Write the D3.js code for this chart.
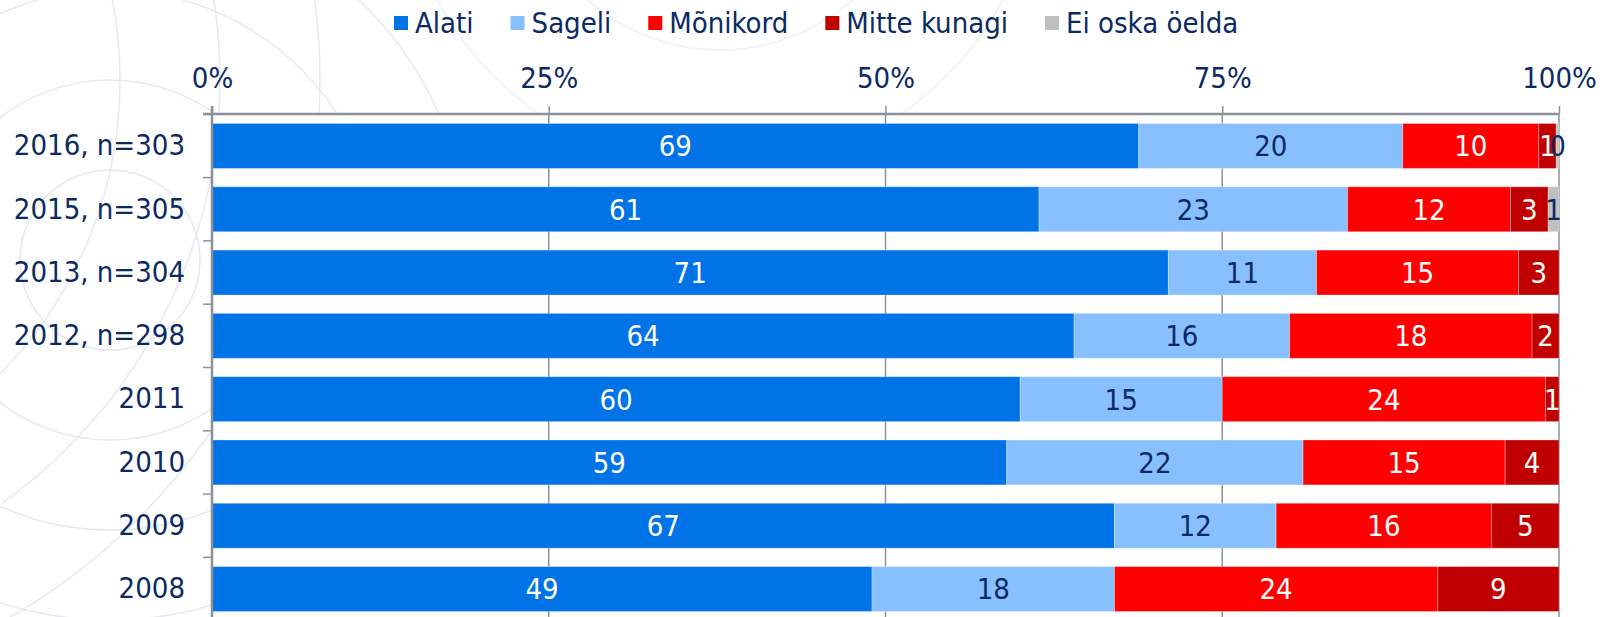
<!DOCTYPE html>
<html>
<head>
<meta charset="utf-8">
<script src="https://cdn.jsdelivr.net/npm/d3@7"></script>
<style>
  body { margin: 0; background: #fff; }
  svg { display: block; font-family: "DejaVu Sans Condensed", "DejaVu Sans", Verdana, sans-serif; font-stretch: condensed; }
</style>
</head>
<body>
<div id="chart"></div>
<script>
var categories = ["2016, n=303", "2015, n=305", "2013, n=304", "2012, n=298", "2011", "2010", "2009", "2008"];
var seriesNames = ["Alati", "Sageli", "Mõnikord", "Mitte kunagi", "Ei oska öelda"];
var alati       = [68.8, 61.4, 71, 64, 60, 59, 67, 49];
var sageli      = [19.6, 22.9, 11, 16, 15, 22, 12, 18];
var monikord    = [10.1, 12.1, 15, 18, 24, 15, 16, 24];
var mitteKunagi = [1.3, 2.8, 3, 2, 1, 4, 5, 9];
var eiOska      = [0.2, 0.8, 0, 0, 0, 0, 0, 0];
var xTicks = [0, 25, 50, 75, 100];

var colors = ["#0073e6", "#88c0ff", "#ff0000", "#c00000", "#c0c0c0"];
var labelColors = ["#fff", "#0b2a64", "#fff", "#fff", "#0b2a64"];
var textColor = "#0b2a64";
var fontSize = 29;

var width = 1602,
    height = 617,
    margin = {top: 114, right: 43, left: 212},
    plotBottom = 621;

// table for d3.stack
var columns = [alati, sageli, monikord, mitteKunagi, eiOska];
var rows = categories.map(function (c, i) {
  var r = {cat: c};
  seriesNames.forEach(function (s, j) { r[s] = columns[j][i]; });
  return r;
});
var stacked = d3.stack().keys(seriesNames)(rows);

var x = d3.scaleLinear()
    .domain([0, 100])
    .range([margin.left, width - margin.right]);

var y = d3.scaleBand()
    .domain(categories)
    .range([margin.top, plotBottom])
    .paddingInner(0.29)
    .paddingOuter(0.15);

var svg = d3.select('#chart').append('svg')
    .attr('width', width)
    .attr('height', height);

// faint decorative background (globe-like arcs)
var bg = svg.append('g')
    .attr('fill', 'none')
    .attr('stroke', '#e5e9ef')
    .attr('stroke-width', 1.5);
[90, 180, 270, 360].forEach(function (r) {
  bg.append('circle').attr('cx', 110).attr('cy', 260).attr('r', r);
});
[420, 520, 620].forEach(function (r) {
  bg.append('circle').attr('cx', -300).attr('cy', 80).attr('r', r);
});
[200, 320].forEach(function (r) {
  bg.append('circle').attr('cx', 720).attr('cy', -150).attr('r', r).attr('stroke', '#eff1f5');
});

// plot background
svg.append('rect')
    .attr('x', x(0)).attr('y', margin.top)
    .attr('width', x(100) - x(0)).attr('height', plotBottom - margin.top)
    .attr('fill', '#fff');

// vertical gridlines
svg.append('g').selectAll('line')
  .data(xTicks.slice(1))
  .enter().append('line')
    .attr('x1', function (d) { return x(d); })
    .attr('x2', function (d) { return x(d); })
    .attr('y1', margin.top)
    .attr('y2', plotBottom)
    .attr('stroke', '#8c9099')
    .attr('stroke-width', 1.5);

// bars
var layer = svg.append('g').selectAll('g')
  .data(stacked)
  .enter().append('g')
    .attr('fill', function (d, i) { return colors[i]; });

layer.selectAll('rect')
  .data(function (d) { return d; })
  .enter().append('rect')
    .attr('x', function (d) { return x(d[0]); })
    .attr('y', function (d) { return y(d.data.cat); })
    .attr('width', function (d) { return x(d[1]) - x(d[0]); })
    .attr('height', y.bandwidth())
    .attr('stroke', 'rgba(255,255,255,0.3)')
    .attr('stroke-width', 1);

// value labels
stacked.forEach(function (s, i) {
  svg.append('g').selectAll('text')
    .data(s.filter(function (d) { return d[1] - d[0] > 0; }))
    .enter().append('text')
      .attr('x', function (d) { return (x(d[0]) + x(d[1])) / 2; })
      .attr('y', function (d) { return y(d.data.cat) + y.bandwidth() / 2; })
      .attr('dy', '0.36em')
      .attr('text-anchor', 'middle')
      .attr('font-size', fontSize)
      .attr('fill', labelColors[i])
      .text(function (d) { return d3.format('.0f')(d[1] - d[0]); });
});

// top axis
var xAxis = svg.append('g')
    .attr('transform', 'translate(0,' + margin.top + ')')
    .call(d3.axisTop(x).tickValues(xTicks).tickSize(8).tickPadding(18)
      .tickFormat(function (d) { return d + '%'; }));
xAxis.select('.domain').remove();
xAxis.attr('font-family', null);
xAxis.selectAll('.tick line').attr('stroke', '#8c9099').attr('stroke-width', 1.5);
xAxis.selectAll('.tick text').attr('font-size', fontSize).attr('fill', textColor);
xAxis.append('line')
    .attr('x1', x(0) - 9).attr('x2', x(100))
    .attr('stroke', '#8c9099').attr('stroke-width', 2.5);

// left axis
var yAxis = svg.append('g')
    .attr('transform', 'translate(' + x(0) + ',0)')
    .call(d3.axisLeft(y).tickSize(0).tickPadding(27));
yAxis.select('.domain').remove();
yAxis.attr('font-family', null);
yAxis.selectAll('.tick text').attr('font-size', fontSize).attr('fill', textColor);
yAxis.append('line')
    .attr('y1', margin.top - 8).attr('y2', plotBottom)
    .attr('stroke', '#8c9099').attr('stroke-width', 2.5);
// ticks between categories
var step = y.step();
yAxis.selectAll('.sep')
  .data(categories)
  .enter().append('line')
    .attr('class', 'sep')
    .attr('x1', -9).attr('x2', 0)
    .attr('y1', function (d) { return y(d) - step * y.paddingInner() / 2; })
    .attr('y2', function (d) { return y(d) - step * y.paddingInner() / 2; })
    .attr('stroke', '#8c9099').attr('stroke-width', 1.5);

// legend
var legend = svg.append('g').attr('transform', 'translate(394,0)');
var lx = 0;
seriesNames.forEach(function (name, i) {
  var g = legend.append('g').attr('transform', 'translate(' + lx + ',0)');
  g.append('rect')
    .attr('x', 0).attr('y', 16)
    .attr('width', 14).attr('height', 14)
    .attr('fill', colors[i]);
  var t = g.append('text')
    .attr('x', 21).attr('y', 33)
    .attr('font-size', fontSize)
    .attr('fill', textColor)
    .text(name);
  lx += 21 + t.node().getComputedTextLength() + 37;
});
</script>
</body>
</html>
